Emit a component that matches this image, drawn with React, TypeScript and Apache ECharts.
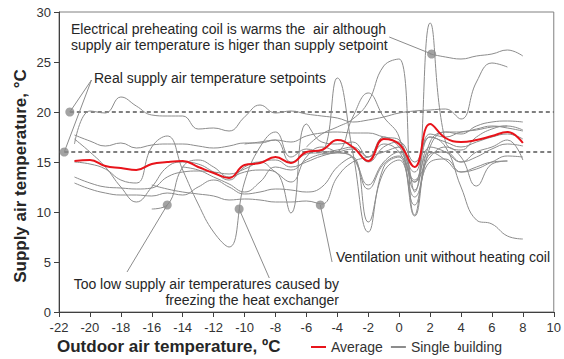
import React, { useEffect, useRef } from "react";
import * as echarts from "echarts";

// x axis ticks
const xMin = -22;
const xMax = 10;
const xStep = 2;
const yMin = 0;
const yMax = 30;
const yStep = 5;

// Average (x from -21 to 8)
const averageStart = -21;
const average = [15.1, 15.2, 14.6, 14.4, 14.2, 14.8, 15.0, 15.1, 14.5, 13.9, 13.4, 14.7, 14.9, 15.5, 14.9, 16.0, 16.2, 17.2, 16.5, 15.1, 17.3, 16.8, 14.5, 18.8, 17.4, 17.0, 17.2, 17.6, 18.0, 16.9];

// Single buildings: [start x, values at each integer step]
const b1Start = -21;
const b1 = [16.8, 20.1, 19.9, 21.5, 20.6, 19.7, 19.6, 19.6, 18.3, 18.4, 18.1, 19.5, 20.7, 19.9, 20.1, 19.8, 19.6, 19.4, 19.0, 19.2, 19.5, 19.9, 20.1, 20.2, 20.3, 19.3, 23.0, 24.9, 24.5];
const b2Start = 2;
const b2 = [25.8, 25.5, 25.3, 25.6, 25.8, 26.2, 25.6];
const b3Start = -21;
const b3 = [17.7, 17.1, 16.6, 16.9, 16.4, 16.7, 16.8, 16.8, 16.6, 16.4, 16.6, 16.9, 16.9, 17.2, 17.0, 17.6, 17.9, 18.0, 17.9, 17.9, 17.5, 17.2, 12.0, 28.9, 17.0, 16.2, 17.5, 18.3, 18.6, 18.2];
const b4Start = -6;
const b4 = [16.5, 17.8, 18.5, 19.3, 21.0, 24.6, 25.3, 9.7, 16.5, 18.0, 17.8, 18.6, 19.0, 19.1, 19.0];
const b5Start = -5;
const b5 = [15.8, 16.0, 19.5, 21.9, 19.5, 17.5, 10.7, 17.0, 18.0, 18.0, 18.3, 18.6, 18.4, 18.1];
const b6Start = -10;
const b6 = [16.8, 17.0, 17.2, 15.0, 15.8, 16.0, 23.4, 16.0, 8.0, 14.5, 15.5, 9.6, 15.8, 16.0, 15.0, 16.0, 16.5, 17.2, 15.2];
const b7Start = -21;
const b7 = [15.0, 14.8, 14.3, 13.2, 12.9, 16.5, 17.6, 14.2, 10.8, 8.0, 6.5, 13.0, 16.5, 18.0, 15.5, 16.3, 16.0, 16.2, 16.5, 15.5, 16.8, 16.0, 13.0, 17.5, 17.0, 16.5, 17.0, 17.5, 17.8, 17.3];
const b8Start = -21;
const b8 = [17.3, 16.0, 14.5, 12.5, 11.0, 12.5, 14.5, 15.0, 14.8, 14.0, 13.2, 14.5, 15.0, 14.0, 13.0, 15.5, 16.5, 16.0, 15.5, 12.7, 15.0, 16.0, 12.2, 16.5, 16.0, 15.0, 15.5, 16.3, 16.8, 16.6];
const b9Start = -21;
const b9 = [13.5, 12.9, 12.5, 12.4, 12.3, 12.4, 13.5, 14.0, 14.1, 14.0, 13.8, 14.3, 15.0, 15.2, 14.5, 15.0, 15.6, 15.9, 15.4, 12.3, 14.8, 15.6, 13.2, 16.0, 15.2, 14.0, 14.3, 15.0, 15.6, 15.5];
const b10Start = -21;
const b10 = [12.9, 12.3, 11.9, 11.7, 11.7, 11.6, 11.9, 11.7, 12.5, 13.2, 12.5, 11.8, 12.0, 12.3, 12.2, 12.0, 12.5, 14.5, 15.5, 9.0, 14.0, 15.2, 11.5, 15.0, 15.3, 14.0, 14.5, 15.0, 15.1];
const b11Start = -16;
const b11 = [12.7, 12.3, 12.0, 11.8, 11.6, 11.2, 11.3, 11.2, 11.0, 11.0, 11.1, 10.8, 13.5, 15.0, 15.5, 16.0, 16.5, 13.0, 15.5, 16.5, 15.5, 12.6, 14.8, 15.1];
const b12Start = -14;
const b12 = [14.5, 14.2, 13.5, 12.8, 12.0, 13.0, 14.5, 14.2, 15.2, 15.8, 16.0, 16.3, 15.0, 16.5, 17.0, 15.0, 17.5, 16.5, 12.5, 9.2, 8.8, 7.6, 7.3];
const b13Start = -16;
const b13 = [10.3, 10.7, 14.5, 15.2, 14.5, 13.5, 14.0, 14.2, 14.0, 9.9, 18.8, 17.0, 16.8, 17.0, 15.5, 17.5, 16.5, 14.0, 17.8, 17.5, 18.0, 18.2, 18.5, 18.6];

const buildings: [number, number[]][] = [
  [b1Start, b1], [b2Start, b2], [b3Start, b3], [b4Start, b4], [b5Start, b5],
  [b6Start, b6], [b7Start, b7], [b8Start, b8], [b9Start, b9], [b10Start, b10],
  [b11Start, b11], [b12Start, b12], [b13Start, b13],
];

// Setpoint dashed lines: [start x, value]
const setpointHigh: [number, number] = [-21.3, 20];
const setpointLow: [number, number] = [-21.66, 16];

// Annotation dots and leader lines (data space)
const annotationDots = [[-21.3, 20], [-21.66, 16], [2.1, 25.8], [-15.0, 10.7], [-10.35, 10.3], [-5.1, 10.7]];
const leaders = [
  [[-19.9, 23.2], [-21.3, 20]],
  [[-19.9, 23.2], [-21.66, 16]],
  [[-0.64, 27.5], [2.1, 25.8]],
  [[-17.6, 4.0], [-15.0, 10.7]],
  [[-8.4, 3.4], [-10.35, 10.3]],
  [[-4.34, 5.0], [-5.1, 10.7]],
];

const FONT = "'Liberation Sans', Arial, sans-serif";
const GRAY = "#8c8c8c";

function toPairs(start: number, vals: number[]) {
  return vals.map((v, i) => [start + i, v]);
}

export default function App() {
  const ref = useRef<HTMLDivElement>(null);
  useEffect(() => {
    if (!ref.current) return;
    const chart = echarts.init(ref.current, null, { renderer: "svg" });
    const series: any[] = [];
    series.push({
      type: "line", name: "setpoint", data: [setpointHigh, [xMax, setpointHigh[1]]],
      symbol: "none", silent: true, lineStyle: { color: "#555", width: 1.5, type: [4, 3] }, z: 1,
    });
    series.push({
      type: "line", name: "setpoint", data: [setpointLow, [xMax, setpointLow[1]]],
      symbol: "none", silent: true, lineStyle: { color: "#555", width: 1.5, type: [4, 3] }, z: 1,
    });
    buildings.forEach(([s, v]) => {
      series.push({
        type: "line", name: "Single building", data: toPairs(s, v), smooth: 0.45,
        symbol: "none", lineStyle: { color: GRAY, width: 1 }, itemStyle: { color: GRAY }, z: 2,
      });
    });
    leaders.forEach((l) => {
      series.push({
        type: "line", name: "leader", data: l, symbol: "none", silent: true,
        lineStyle: { color: GRAY, width: 1 }, z: 2,
      });
    });
    series.push({
      type: "line", name: "Average", data: toPairs(averageStart, average), smooth: 0.45,
      symbol: "none", lineStyle: { color: "#e8141b", width: 2 }, itemStyle: { color: "#e8141b" }, z: 4,
    });
    series.push({
      type: "scatter", name: "dots", data: annotationDots, symbolSize: 9,
      itemStyle: { color: GRAY }, silent: true, z: 5,
    });

    chart.setOption({
      animation: false,
      grid: { left: 59, right: 8, top: 12, bottom: 47, show: true, borderColor: "#808080", borderWidth: 1 },
      xAxis: {
        type: "value", min: xMin, max: xMax, interval: xStep,
        axisLine: { show: true, onZero: false, lineStyle: { color: "#404040", width: 1 } },
        axisTick: { show: true, length: 5, lineStyle: { color: "#404040" } },
        axisLabel: { fontSize: 13, color: "#333", fontFamily: FONT, margin: 9 },
        splitLine: { show: false },
      },
      yAxis: {
        type: "value", min: yMin, max: yMax, interval: yStep,
        axisLine: { show: true, onZero: false, lineStyle: { color: "#404040", width: 1 } },
        axisTick: { show: true, length: 5, lineStyle: { color: "#404040" } },
        axisLabel: { fontSize: 13, color: "#333", fontFamily: FONT, margin: 8 },
        splitLine: { show: false },
      },
      legend: {
        data: ["Average", "Single building"], left: 311, top: 340, itemWidth: 15, itemHeight: 2,
        icon: "rect", itemGap: 8, padding: 0,
        textStyle: { fontSize: 14, color: "#333", fontFamily: FONT },
      },
      graphic: [
        { type: "text", left: 57, top: 338, style: { text: "Outdoor air temperature, ºC", font: `bold 17px ${FONT}`, fill: "#262626" } },
        { type: "text", x: 20, y: 176, rotation: Math.PI / 2, style: { text: "Supply air temperature, °C", font: `bold 17px ${FONT}`, fill: "#262626", textAlign: "center", textVerticalAlign: "middle" } },
        { type: "text", x: 71, y: 21, style: { text: "Electrical preheating coil is warms the  air although\nsupply air temperature is higer than supply setpoint", font: `14px ${FONT}`, fill: "#262626", lineHeight: 16 } },
        { type: "text", x: 94, y: 70, style: { text: "Real supply air temperature setpoints", font: `14px ${FONT}`, fill: "#262626", lineHeight: 16 } },
        { type: "text", x: 336, y: 249, style: { text: "Ventilation unit without heating coil", font: `14px ${FONT}`, fill: "#262626", lineHeight: 16 } },
        { type: "text", x: 339, y: 276, style: { text: "Too low supply air temperatures caused by\nfreezing the heat exchanger", font: `14px ${FONT}`, fill: "#262626", lineHeight: 16, textAlign: "right" } },
      ],
      series,
    });
    return () => chart.dispose();
  }, []);
  return <div ref={ref} style={{ width: 564, height: 359, position: "absolute", left: 0, top: 0 }} />;
}
